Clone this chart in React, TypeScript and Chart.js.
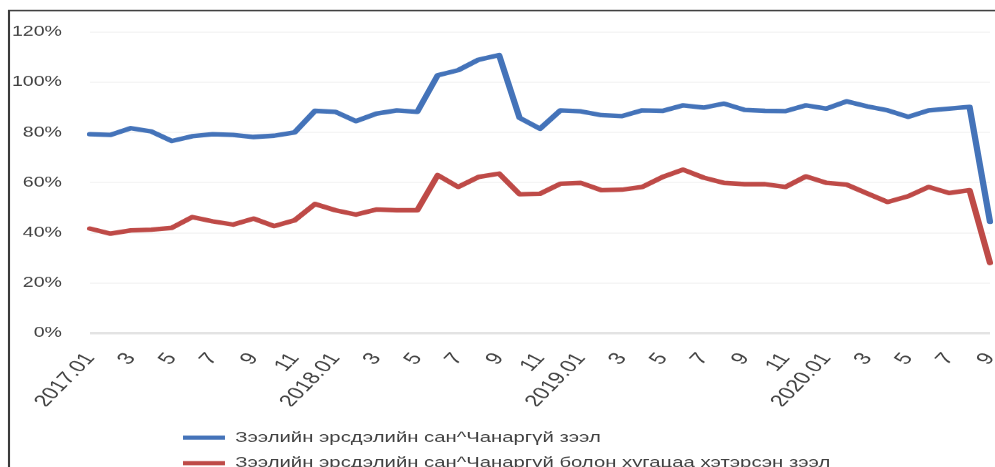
import React, { useEffect, useRef } from 'react';
import { Chart, registerables } from 'chart.js';

Chart.register(...registerables);

// ---------- data ----------
const months = [
  '2017.01', '2', '3', '4', '5', '6', '7', '8', '9', '10', '11', '12',
  '2018.01', '2', '3', '4', '5', '6', '7', '8', '9', '10', '11', '12',
  '2019.01', '2', '3', '4', '5', '6', '7', '8', '9', '10', '11', '12',
  '2020.01', '2', '3', '4', '5', '6', '7', '8', '9',
];

const seriesNames = [
  'Зээлийн эрсдэлийн сан^Чанаргүй зээл',
  'Зээлийн эрсдэлийн сан^Чанаргүй болон хугацаа хэтэрсэн зээл',
];

const fundToNPL = [
  79.3, 79, 81.7, 80.4, 76.6, 78.5, 79.3, 79, 78.2, 78.7, 80,
  88.6, 88.2, 84.5, 87.5, 88.8, 88.2, 102.8, 104.8, 109, 110.8, 85.8, 81.5,
  88.8, 88.4, 86.9, 86.5, 88.8, 88.6, 90.8, 89.9, 91.5, 89, 88.6,
  88.5, 90.8, 89.5, 92.4, 90.4, 88.8, 86.2, 88.8, 89.5, 90.2, 44.4,
];

const fundToNPLOverdue = [
  41.7, 39.7, 41, 41.3, 42, 46.3, 44.6, 43.3, 45.7, 42.7, 45,
  51.5, 49, 47.3, 49.3, 49, 49, 63, 58.3, 62.3, 63.6, 55.4, 55.6,
  59.6, 59.9, 57, 57.2, 58.3, 62.3, 65.2, 62, 59.9, 59.4, 59.4,
  58.3, 62.5, 59.9, 59.2, 55.7, 52.3, 54.6, 58.3, 55.9, 57, 28,
];

const yMin = 0;
const yMax = 120;
const yStep = 20;

const seriesColors = ['#4473b9', '#be4a47'];

// ---------- layout (display px -> logical px) ----------
const W = 995;
const H = 467;
const LOGICAL_W = 711;
const SX = W / LOGICAL_W;
const lx = (d: number) => d / SX;

const FONT = "'Liberation Sans', Arial, sans-serif";
const TEXT = '#404040';
const LEGEND_PAD = 11;

const framePlugin = {
  id: 'frameAndLegendPos',
  afterLayout(chart: any) {
    const lg = chart.legend;
    if (lg) {
      lg.left = lx(183) - LEGEND_PAD;
      lg.right = LOGICAL_W;
      lg.top = 419;
      lg.bottom = H + 30;
    }
  },
  afterDraw(chart: any) {
    const ctx = chart.ctx;
    ctx.save();
    ctx.strokeStyle = '#3a3a3a';
    ctx.lineWidth = 1.5;
    ctx.beginPath();
    ctx.moveTo(lx(9), H + 5);
    ctx.lineTo(lx(9), 10.5);
    ctx.lineTo(LOGICAL_W + 5, 10.5);
    ctx.stroke();
    ctx.restore();
  },
};

export default function App() {
  const ref = useRef<HTMLCanvasElement | null>(null);

  useEffect(() => {
    if (!ref.current) return;
    const chart = new Chart(ref.current, {
      type: 'line',
      data: {
        labels: months,
        datasets: [
          {
            label: seriesNames[0],
            data: fundToNPL,
            borderColor: seriesColors[0],
            backgroundColor: seriesColors[0],
            borderWidth: 4.5,
            pointRadius: 0,
            tension: 0,
            borderJoinStyle: 'round',
            borderCapStyle: 'round',
          },
          {
            label: seriesNames[1],
            data: fundToNPLOverdue,
            borderColor: seriesColors[1],
            backgroundColor: seriesColors[1],
            borderWidth: 4.5,
            pointRadius: 0,
            tension: 0,
            borderJoinStyle: 'round',
            borderCapStyle: 'round',
          },
        ],
      },
      options: {
        animation: false,
        responsive: false,
        devicePixelRatio: SX,
        layout: { padding: { left: 0, right: LOGICAL_W - lx(990), top: 32, bottom: 0 } },
        plugins: {
          tooltip: { enabled: false },
          legend: {
            position: 'bottom',
            align: 'start',
            labels: {
              boxWidth: 30,
              boxHeight: 4,
              padding: LEGEND_PAD,
              color: TEXT,
              font: { family: FONT, size: 14.5 },
              generateLabels: (c: any) =>
                Chart.defaults.plugins.legend.labels
                  .generateLabels(c)
                  .map((l: any) => ({ ...l, lineWidth: 0, fillStyle: l.strokeStyle })),
            },
          },
        },
        scales: {
          x: {
            type: 'category',
            grid: { display: false },
            border: { display: false },
            afterFit: (scale: any) => {
              const lg = scale.chart.legend;
              scale.height = H - 333 - (lg ? lg.height : 0);
              scale.paddingLeft = 0;
              scale.paddingRight = 0;
            },
            ticks: {
              autoSkip: false,
              minRotation: 54.5,
              maxRotation: 54.5,
              padding: 8,
              color: TEXT,
              font: { family: FONT, size: 17 },
              callback: (_v: any, i: number) => (i % 2 === 0 ? months[i] : ''),
            },
          },
          y: {
            min: yMin,
            max: yMax,
            border: { display: false },
            afterFit: (scale: any) => {
              scale.width = lx(90);
            },
            grid: {
              drawTicks: false,
              color: (c: any) => (c.tick && c.tick.value === 0 ? '#e3e3e3' : '#f5f5f5'),
              lineWidth: (c: any) => (c.tick && c.tick.value === 0 ? 2.5 : 1.5),
            },
            ticks: {
              stepSize: yStep,
              padding: 20,
              color: TEXT,
              font: { family: FONT, size: 14 },
              callback: (v: any) => `${v}%`,
            },
          },
        },
      },
      plugins: [framePlugin],
    } as any);
    return () => chart.destroy();
  }, []);

  return (
    <div style={{ position: 'fixed', left: 0, top: 0, width: W, height: H, background: '#fff' }}>
      <canvas
        ref={ref}
        width={LOGICAL_W}
        height={H}
        style={{ display: 'block', width: `${W}px`, height: `${H}px` }}
      />
    </div>
  );
}
